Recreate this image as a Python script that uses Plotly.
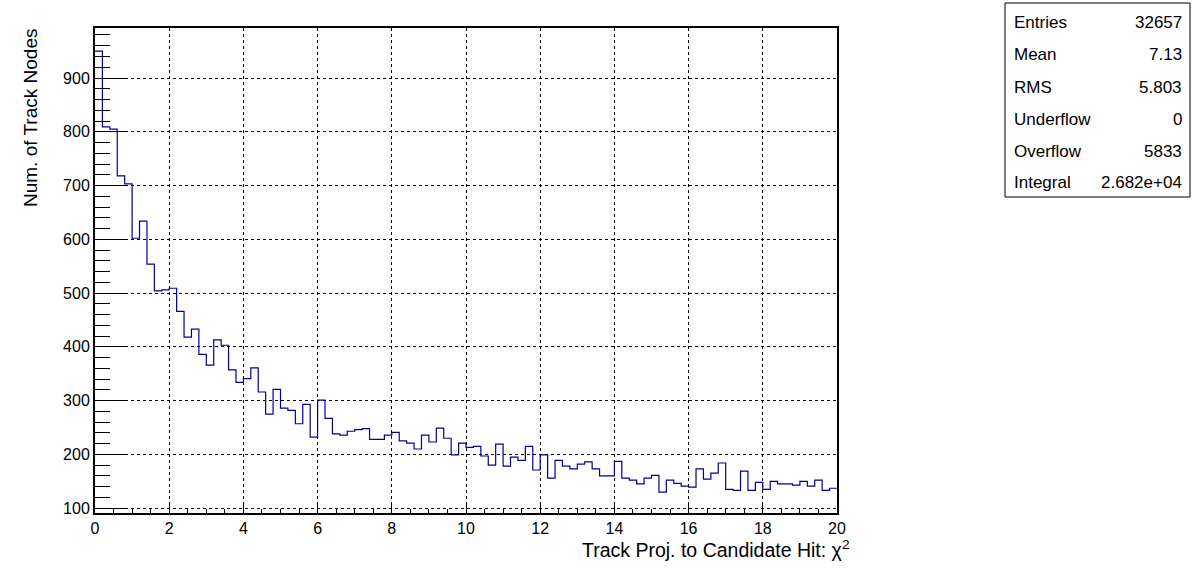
import plotly.graph_objects as go

# ---- data ----
bin_width = 0.2
x_min = 0.0
counts = [950, 809, 805, 718, 703, 602, 634, 554, 504, 506,
          509, 466, 418, 433, 386, 366, 413, 403, 357, 334,
          341, 361, 316, 275, 321, 286, 282, 257, 293, 232,
          301, 267, 238, 236, 243, 246, 248, 228, 228, 236,
          241, 225, 221, 210, 236, 223, 249, 230, 199, 221,
          213, 215, 197, 180, 219, 178, 195, 189, 215, 171,
          199, 156, 189, 178, 173, 182, 186, 173, 160, 160,
          187, 156, 152, 145, 156, 161, 130, 152, 146, 141,
          139, 173, 154, 165, 184, 135, 133, 169, 133, 148,
          135, 150, 145, 145, 143, 150, 141, 152, 133, 137]
stat_labels = ["Entries", "Mean", "RMS", "Underflow", "Overflow", "Integral"]
stat_values = ["32657", "7.13", "5.803", "0", "5833", "2.682e+04"]
x_ticks = [0, 2, 4, 6, 8, 10, 12, 14, 16, 18, 20]
y_ticks = [100, 200, 300, 400, 500, 600, 700, 800, 900]

edges = [x_min + i * bin_width for i in range(len(counts) + 1)]
ys = counts + [counts[-1]]

# ---- layout geometry (pixels) ----
W, H = 1196, 572
L, R, T, B = 95, 837, 28, 513


def px2x(px):
    return (px - L) / (R - L)


def py2y(py):
    return (B - py) / (B - T)


FONT = "Liberation Sans, Arial, Helvetica, sans-serif"

fig = go.Figure()
fig.add_trace(go.Scatter(
    x=edges, y=ys, mode="lines",
    line=dict(color="#000099", width=1.2, shape="hv"),
    showlegend=False, hoverinfo="skip",
))

fig.update_layout(
    width=W, height=H,
    margin=dict(l=L, r=W - R, t=T, b=H - B, pad=0),
    paper_bgcolor="white", plot_bgcolor="white",
    font=dict(family=FONT, size=16, color="black"),
    showlegend=False,
)

fig.update_xaxes(
    range=[0, 20], tickvals=x_ticks, ticktext=[str(t) for t in x_ticks],
    showline=True, linecolor="black", linewidth=2, mirror=True,
    ticks="inside", ticklen=8, tickwidth=1, tickcolor="black",
    showgrid=True, gridcolor="black", griddash="dot", gridwidth=1,
    minor=dict(ticks="inside", ticklen=4, dtick=0.5, tick0=0,
               tickcolor="black", showgrid=False),
    tickfont=dict(size=16, family=FONT), zeroline=False,
)
fig.update_yaxes(
    range=[91, 993], tickvals=y_ticks, ticktext=[str(t) for t in y_ticks],
    showline=True, linecolor="black", linewidth=2, mirror=True,
    ticks="inside", ticklen=30, tickwidth=1, tickcolor="black",
    showgrid=True, gridcolor="black", griddash="dot", gridwidth=1,
    minor=dict(ticks="inside", ticklen=15, dtick=20, tick0=0,
               tickcolor="black", showgrid=False),
    tickfont=dict(size=16, family=FONT), zeroline=False,
)

annotations = []
# axis titles
annotations.append(dict(
    text="Track Proj. to Candidate Hit: \u03c7<sup>2</sup>",
    xref="paper", yref="paper", x=px2x(851), y=py2y(535),
    xanchor="right", yanchor="top", showarrow=False,
    font=dict(size=19.5, family=FONT, color="black"),
))
annotations.append(dict(
    text="Num. of Track Nodes", textangle=-90,
    xref="paper", yref="paper", x=px2x(30), y=py2y(27),
    xanchor="center", yanchor="top", showarrow=False,
    font=dict(size=19, family=FONT, color="black"),
))

# stats box
box_l, box_r, box_t, box_b = 1005, 1190, 3, 197
row_y = [22, 54, 87, 119, 151, 182]
for lab, val, ry in zip(stat_labels, stat_values, row_y):
    annotations.append(dict(
        text=lab, xref="paper", yref="paper", x=px2x(1012), y=py2y(ry),
        xanchor="left", yanchor="middle", showarrow=False,
        font=dict(size=17, family=FONT, color="black"),
    ))
    annotations.append(dict(
        text=val, xref="paper", yref="paper", x=px2x(1184), y=py2y(ry),
        xanchor="right", yanchor="middle", showarrow=False,
        font=dict(size=17, family=FONT, color="black"),
    ))
fig.update_layout(annotations=annotations)
fig.add_shape(type="rect", xref="paper", yref="paper",
              x0=px2x(box_l), x1=px2x(box_r), y0=py2y(box_b), y1=py2y(box_t),
              line=dict(color="black", width=1), fillcolor="white", layer="below")

fig.write_html(
    "out.html",
    config={"displayModeBar": False},
    post_script="document.body.style.margin='0';document.body.style.overflow='hidden';",
)
